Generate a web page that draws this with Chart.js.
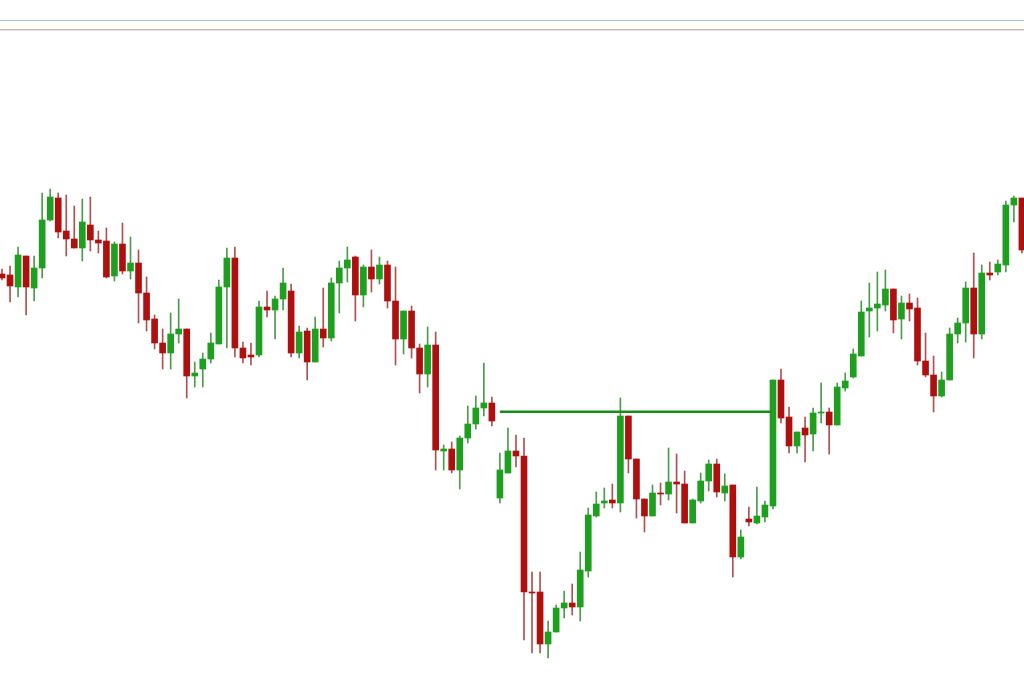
<!DOCTYPE html>
<html>
<head>
<meta charset="utf-8">
<script src="https://cdn.jsdelivr.net/npm/chart.js@4.4.1/dist/chart.umd.min.js"></script>
<style>
  html, body { margin: 0; padding: 0; background: #fff; }
  #wrap { width: 1024px; height: 674px; position: relative; }
</style>
</head>
<body>
<div id="wrap"><canvas id="myChart"></canvas></div>
<script>
// OHLC (arbitrary price units)
var open = [726,725,713,744,712,732,780,802,769,761,752,775,760,759,724,756,729,737,707,681,
            657,647,666,671,624,631,641,656,713,742,652,645,645,693,690,701,709,647,669,638,
            671,662,717,732,743,705,733,721,735,699,661,689,652,626,655,549,551,530,562,576,
            592,597,502,527,549,544,408,408,356,368,392,397,393,429,484,497,500,497,584,541,
            501,484,507,506,518,516,477,499,519,536,507,515,443,481,477,483,494,620,583,554,
            572,566,587,588,575,612,623,644,689,692,695,711,681,697,692,639,625,604,620,666,
            677,712,666,727,728,735,795,802];
var high = [731,734,753,744,744,807,811,807,805,794,801,803,769,772,758,777,763,750,723,685,
            671,687,701,671,638,647,667,720,752,753,658,657,699,709,704,732,716,674,672,683,
            712,722,739,753,744,735,750,743,739,733,689,694,656,673,668,555,558,564,594,604,
            637,603,547,572,565,562,428,428,379,395,409,416,448,492,508,512,516,602,584,541,
            501,515,517,552,546,529,501,527,540,541,526,515,470,493,513,499,620,631,593,568,
            583,592,617,592,617,627,651,699,717,728,730,711,704,706,702,667,644,628,672,682,
            718,747,735,738,740,799,804,802];
var low  = [720,698,703,685,699,722,779,762,744,752,739,749,747,722,719,726,721,677,669,651,
            631,631,657,602,613,613,637,656,652,643,637,635,643,683,661,690,643,642,620,638,
            653,659,687,718,679,693,708,716,692,635,646,642,607,613,530,530,527,511,557,571,
            584,574,497,527,533,360,347,347,342,368,382,385,379,423,483,492,492,488,527,482,
            468,484,495,500,487,477,477,497,509,503,499,423,441,474,476,478,491,577,547,547,
            538,549,577,546,575,609,622,644,663,669,689,667,661,679,635,623,588,603,620,657,
            658,642,661,720,725,728,778,747];
var close = [722,714,745,713,732,780,803,768,761,752,778,760,757,723,756,729,737,707,680,657,
             647,666,671,624,627,641,657,713,742,652,642,643,693,690,701,717,647,668,638,671,
             662,717,732,740,705,733,721,735,699,661,689,652,626,655,550,551,530,562,576,592,
             597,579,530,549,544,408,407,356,368,392,397,393,430,485,496,499,497,584,541,501,
             484,507,506,518,516,477,500,519,536,508,514,443,463,478,484,495,620,582,554,568,
             565,587,588,575,613,619,646,688,692,696,711,680,697,691,639,625,604,620,666,677,
             712,666,727,725,736,795,802,750];

// neckline drawn across the pattern
var lineLevel = 588.3;
var lineFrom = 62, lineTo = 95.8;

var green = '#1f9f1f', red = '#ae1010';
var greenWick = '#4c9a4c', redWick = '#b05050';

var bodies = [], wicks = [], bodyColors = [], wickColors = [];
for (let i = 0; i < open.length; i++) {
  var up = close[i] >= open[i];
  bodies.push({ x: i, y: [open[i], close[i]] });
  wicks.push({ x: i, y: [low[i], high[i]] });
  bodyColors.push(up ? green : red);
  wickColors.push(up ? greenWick : redWick);
}

// the two thin rules at the top of the screenshot
var topRules = {
  id: 'topRules',
  beforeDraw: function(chart) {
    var c = chart.ctx;
    c.save();
    c.fillStyle = '#ffffff';
    c.fillRect(0, 0, chart.width, chart.height);
    c.fillStyle = '#fffff7';
    c.fillRect(0, 21, chart.width, 8);
    c.fillStyle = '#a8c4d4';
    c.fillRect(0, 20, chart.width, 1);
    c.fillStyle = '#c8bcb8';
    c.fillRect(0, 29, chart.width, 1.5);
    c.restore();
  }
};

var ctx = document.getElementById('myChart').getContext('2d');
var myChart = new Chart(ctx, {
  type: 'bar',
  data: {
    datasets: [{
      label: 'wicks',
      data: wicks,
      backgroundColor: wickColors,
      barThickness: 1,
      grouped: false,
      order: 3
    }, {
      label: 'bodies',
      data: bodies,
      backgroundColor: bodyColors,
      barThickness: 6,
      minBarLength: 1,
      grouped: false,
      order: 2
    }, {
      type: 'line',
      label: 'neckline',
      data: [{ x: lineFrom, y: lineLevel }, { x: lineTo, y: lineLevel }],
      borderColor: '#1a8c1a',
      borderWidth: 2.5,
      pointRadius: 0,
      fill: false,
      order: 1
    }]
  },
  options: {
    responsive: true,
    maintainAspectRatio: false,
    animation: false,
    layout: { padding: 0 },
    plugins: {
      legend: { display: false },
      tooltip: { enabled: false }
    },
    scales: {
      x: { type: 'linear', min: -0.25, max: 127.26, offset: false, display: false },
      y: { min: 326, max: 1000, display: false }
    }
  },
  plugins: [topRules]
});
</script>
</body>
</html>
